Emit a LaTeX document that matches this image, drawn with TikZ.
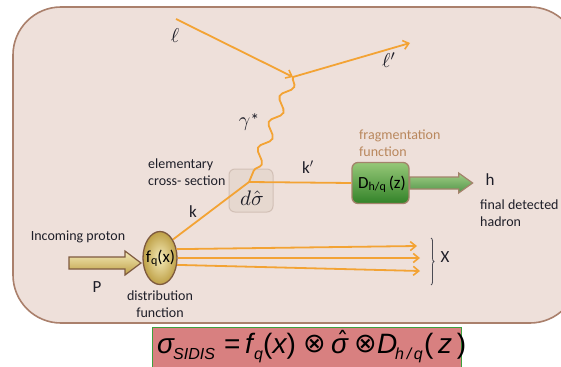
\documentclass[tikz,border=0pt]{standalone}
\usepackage{fontspec}
\setmainfont{Carlito}
\newfontfamily\arialf{Liberation Sans}
\newfontfamily\dejavu{DejaVu Sans}
\usetikzlibrary{arrows.meta,decorations.pathmorphing,decorations.pathreplacing,shapes.geometric}
\definecolor{bgfill}{RGB}{238,224,218}
\definecolor{bgline}{RGB}{170,128,108}
\definecolor{orl}{RGB}{243,163,52}
\definecolor{txt}{RGB}{30,30,40}
\definecolor{fragc}{RGB}{185,135,92}
\definecolor{brn}{RGB}{140,100,70}
\definecolor{gtop}{RGB}{150,200,120}
\definecolor{gbot}{RGB}{50,130,40}
\definecolor{goldin}{RGB}{245,235,185}
\definecolor{goldout}{RGB}{190,160,70}
\definecolor{frmfill}{RGB}{216,128,128}
\definecolor{frmline}{RGB}{60,160,60}
\definecolor{dsfill}{RGB}{230,216,207}
\definecolor{dsline}{RGB}{210,192,182}
\newcommand{\pc}[2]{\makebox[#1pt][l]{#2}}
\begin{document}
\begin{tikzpicture}[x=1pt,y=-1pt,
  ol/.style={draw=orl,line width=1.8pt},
  tip/.style={-{Straight Barb[length=5.5pt,width=9pt,line width=1.6pt]}},
  lbl/.style={text=txt,font=\fontsize{14}{17}\selectfont,inner sep=0pt},
  big/.style={text=txt,font=\fontsize{17}{18}\selectfont,inner sep=0pt},
  mth/.style={text=txt,font=\fontsize{10}{10}\selectfont,inner sep=0pt,scale=2},
  dsbox/.style={draw=dsline,line width=1pt,fill=dsfill,rounded corners=6pt,minimum width=44pt,minimum height=43pt,inner sep=0pt},
  dbox/.style={draw=brn!80,line width=1.3pt,top color=gtop,bottom color=gbot,rounded corners=6pt,minimum width=57pt,minimum height=41pt,inner sep=0pt},
  fell/.style={ellipse,draw=brn!90!black,line width=1.3pt,inner color=goldin,outer color=goldout,minimum width=34pt,minimum height=53pt,inner sep=0pt},
  photon/.style={draw=orl,line width=1.8pt,decorate,decoration={snake,amplitude=5pt,segment length=28pt}}
]
\useasboundingbox (0,0) rectangle (561,366);
\clip (0,0) rectangle (561,366);
\draw[bgline,line width=1.6pt,fill=bgfill,rounded corners=48pt] (13,7) rectangle (578,323);

% dsigma box
\node[dsbox] (ds) at (251,190.5) {};
\node[mth,scale=1.05] (dslab) at (252,198) {$d\hat{\sigma}$};

% vertices
\coordinate (lin) at (176,19);
\coordinate (v1) at (293,77);
\coordinate (lout) at (410,43);
\coordinate (v2) at (249,182);

% D box and ellipse
\node[dbox] (D) at (380.5,183) {};
\node[text=black,inner sep=0pt,font=\fontsize{17}{17}\selectfont] (Dlab) at (382,184) {D\raisebox{-1.5pt}{\fontsize{12}{12}\selectfont h/q}\,(z)};
\node[fell] (fq) at (160,258) {};
\node[text=black,inner sep=0pt,font=\fontsize{17}{17}\selectfont] (fqlab) at (160.5,258) {f\raisebox{-1.5pt}{\fontsize{12}{12}\selectfont q}(x)};

% lepton lines
\draw[ol,tip] (lin) -- (v1);
\draw[ol,tip] (v1) -- (lout);
\draw[photon] (v1) -- (v2);
\draw[ol] (v2) -- (D.west);
\draw[ol] (fq.55) -- (v2);

% remnant arrows
\coordinate (x1) at (417,246);
\coordinate (x2) at (420,258);
\coordinate (x3) at (420,271);
\draw[ol,tip] (fq.28) -- (x1);
\draw[ol,tip] (fq.east) -- (x2);
\draw[ol,tip] (fq.-22) -- (x3);
\draw[txt!80,line width=0.8pt,decorate,decoration={brace,amplitude=3pt}] (431,238) -- (431,285);
\node[big] (X) at (445,257) {X};

% green arrow
\coordinate (ga) at (D.east);
\draw[brn!80,line width=1.2pt,top color=gtop!90!white,bottom color=gbot!85!white]
  (ga) ++(0,-6) -- ++(49,0) -- ++(0,-4) -- ++(14,10) -- ++(-14,10) -- ++(0,-4) -- ++(-49,0) -- cycle;

% proton arrow
\coordinate (pa) at (69,263);
\draw[brn!90!black,line width=1.2pt,top color=goldin,bottom color=goldout]
  (pa) ++(0,-6) -- ++(56,0) -- ++(0,-6) -- ++(16,12) -- ++(-16,12) -- ++(0,-6) -- ++(-56,0) -- cycle;

% labels
\node[mth] (l1) at (175,36) {$\ell$};
\node[mth] (l2) at (389,60) {$\ell'$};
\node[mth] (gam) at (249,122) {$\gamma$\fontsize{9}{9}\selectfont *};
\node[lbl,anchor=west,align=left] (ecs) at (148,172.5) {elementary\\cross- section};
\node[big] (kp) at (308,167) {k$'$};
\node[big] (k) at (193,212) {k};
\node[lbl,anchor=west,align=left,text=fragc] (frag) at (359,143) {fragmentation\\function};
\node[big] (h) at (490,180) {h};
\node[lbl,anchor=west,align=left] (fdh) at (480,213.5) {final detected\\hadron};
\node[lbl] (inc) at (78,237) {Incoming proton};
\node[big] (P) at (97,287) {P};
\node[lbl,align=center] (dist) at (160,304) {distribution\\function};

% formula
\node[draw=frmline,line width=1.3pt,fill=frmfill,minimum width=309pt,minimum height=42pt,anchor=north west,inner sep=0pt] (frm) at (152,327) {};
\node[inner sep=0pt,anchor=base west,text=black] (frmtxt) at (157,353)
 {\arialf\fontsize{28}{28}\selectfont\itshape
  \pc{16}{σ}\pc{51}{\raisebox{-6pt}{\fontsize{16}{16}\selectfont SIDIS}}\pc{21}{\upshape =}\pc{9}{f}\pc{9}{\raisebox{-6pt}{\fontsize{16}{16}\selectfont q}}\pc{40}{{\upshape(}x{\upshape)}}\pc{28}{\raisebox{1pt}{\dejavu\upshape\fontsize{27}{27}\selectfont ⊗}}\pc{23}{\makebox[0pt][l]{\hspace{5.5pt}\raisebox{4pt}{\dejavu\upshape\fontsize{24}{24}\selectfont ˆ}}σ}\pc{23}{\raisebox{1pt}{\dejavu\upshape\fontsize{27}{27}\selectfont ⊗}}\pc{18}{D}\pc{29}{\raisebox{-6pt}{\fontsize{16}{16}\selectfont h\,/\,q}}{\upshape(}\,z\,{\upshape)}};
\end{tikzpicture}
\end{document}
